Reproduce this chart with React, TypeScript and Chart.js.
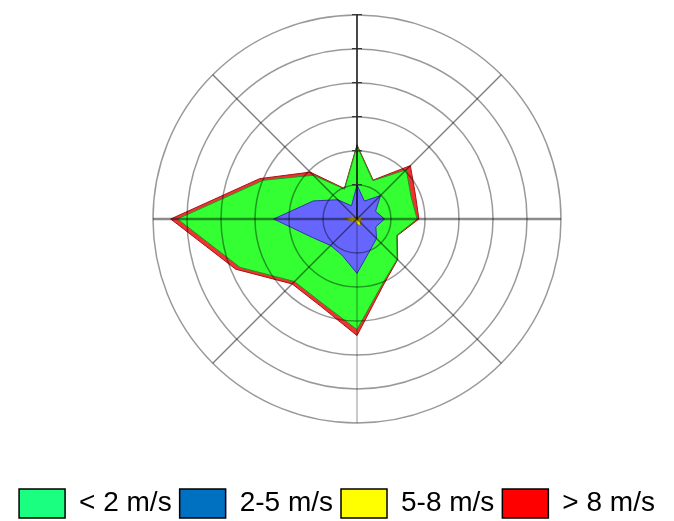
import { useEffect, useRef } from 'react';
import { Chart, registerables } from 'chart.js';

Chart.register(...registerables);

// 16 compass directions, clockwise from North
const directions = ['N', 'NNE', 'NE', 'ENE', 'E', 'ESE', 'SE', 'SSE', 'S', 'SSW', 'SW', 'WSW', 'W', 'WNW', 'NW', 'NNW'];

// plotted radii of each band (ring units)
const below2 = [2.15, 1.22, 2.05, 1.72, 1.77, 1.26, 1.67, 2.02, 3.25, 2.68, 2.6, 3.72, 5.28, 2.98, 1.82, 0.95];
const from2to5 = [1.0, 0.57, 0.98, 0.59, 0.81, 0.6, 0.81, 1.0, 1.6, 1.15, 1.1, 1.42, 2.45, 1.39, 0.8, 0.42];
const from5to8 = [0.05, 0.05, 0.08, 0.12, 0.18, 0.1, 0.15, 0.22, 0.15, 0.08, 0.05, 0.15, 0.38, 0.15, 0.05, 0.05];
const above8 = [2.18, 1.24, 2.22, 1.86, 1.82, 1.28, 1.69, 2.07, 3.43, 2.78, 2.7, 3.86, 5.48, 3.1, 1.95, 0.97];

const seriesLabels = ['< 2 m/s', '2-5 m/s', '5-8 m/s', '> 8 m/s'];
const legendColors = ['#1AFF80', '#0070C0', '#FFFF00', '#FF0000'];

const scaleMin = 0;
const scaleMax = 6;
const scaleStep = 1;

export default function App() {
  const ref = useRef<HTMLCanvasElement>(null);

  useEffect(() => {
    document.documentElement.style.overflow = 'hidden';
    document.body.style.margin = '0';
    document.body.style.overflow = 'hidden';

    const spokeColor = (i: number) => {
      if (i % 2 === 1) return 'rgba(0,0,0,0)';
      if (i === 0) return 'rgba(0,0,0,0.8)';
      if (i === 4 || i === 12) return 'rgba(0,0,0,0.45)';
      if (i === 8) return 'rgba(0,0,0,0.35)';
      return 'rgba(0,0,0,0.5)';
    };
    const spokeWidth = (i: number) => {
      if (i % 2 === 1) return 0;
      if (i === 0) return 1.8;
      if (i === 4 || i === 12) return 2.5;
      if (i === 8) return 1.2;
      return 1.5;
    };

    const chart = new Chart(ref.current as HTMLCanvasElement, {
      type: 'radar',
      data: {
        labels: directions,
        datasets: [
          {
            label: seriesLabels[0],
            data: below2,
            backgroundColor: '#33FF33',
            borderColor: '#1E9A1E',
            borderWidth: 1,
            fill: true,
            order: 2,
          },
          {
            label: seriesLabels[1],
            data: from2to5,
            backgroundColor: '#6666FF',
            borderColor: '#3333AA',
            borderWidth: 1,
            fill: true,
            order: 1,
          },
          {
            label: seriesLabels[2],
            data: from5to8,
            backgroundColor: '#FFDD00',
            borderColor: '#8A7A00',
            borderWidth: 1,
            fill: true,
            order: 0,
          },
          {
            label: seriesLabels[3],
            data: above8,
            backgroundColor: '#EE3333',
            borderColor: '#AA1111',
            borderWidth: 1,
            fill: true,
            order: 3,
          },
        ],
      },
      options: {
        animation: false,
        responsive: true,
        maintainAspectRatio: false,
        layout: { padding: 0 },
        elements: {
          line: { tension: 0 },
          point: { radius: 0, hoverRadius: 0 },
        },
        scales: {
          r: {
            min: scaleMin,
            max: scaleMax,
            beginAtZero: true,
            ticks: {
              stepSize: scaleStep,
              display: true,
              z: 1,
              callback: () => '—',
              showLabelBackdrop: false,
              backdropPadding: 0,
              color: '#333',
              font: { size: 10, weight: 'bold', family: 'Liberation Sans' },
            },
            grid: {
              circular: true,
              z: 1,
              color: 'rgba(0,0,0,0.4)',
              lineWidth: 1.5,
            },
            angleLines: {
              color: (ctx: any) => spokeColor(ctx.index),
              lineWidth: (ctx: any) => spokeWidth(ctx.index),
            },
            pointLabels: { display: false },
          },
        },
        plugins: {
          tooltip: { enabled: false },
          title: {
            display: true,
            position: 'left',
            text: ' ',
            font: { size: 10, lineHeight: 1 },
            padding: { top: 138, bottom: 0 },
          },
          subtitle: {
            display: true,
            position: 'right',
            text: ' ',
            font: { size: 10, lineHeight: 1 },
            padding: { top: 98, bottom: 0 },
          },
          legend: {
            display: true,
            position: 'bottom',
            title: {
              display: true,
              text: ' ',
              font: { size: 12, lineHeight: 1 },
              padding: { top: 31, bottom: 0 },
            },
            labels: {
              boxWidth: 46,
              boxHeight: 29,
              padding: 8,
              color: '#000',
              font: { size: 28, family: 'Liberation Sans' },
              generateLabels: (c: any) =>
                c.data.datasets.map((ds: any, i: number) => ({
                  text: ds.label,
                  fillStyle: legendColors[i],
                  strokeStyle: '#000',
                  fontColor: '#000',
                  lineWidth: 1.5,
                  hidden: false,
                  datasetIndex: i,
                })),
            },
          },
        },
      } as any,
    });
    return () => chart.destroy();
  }, []);

  return (
    <div style={{ position: 'relative', width: 674, height: 528 }}>
      <canvas ref={ref} />
    </div>
  );
}
